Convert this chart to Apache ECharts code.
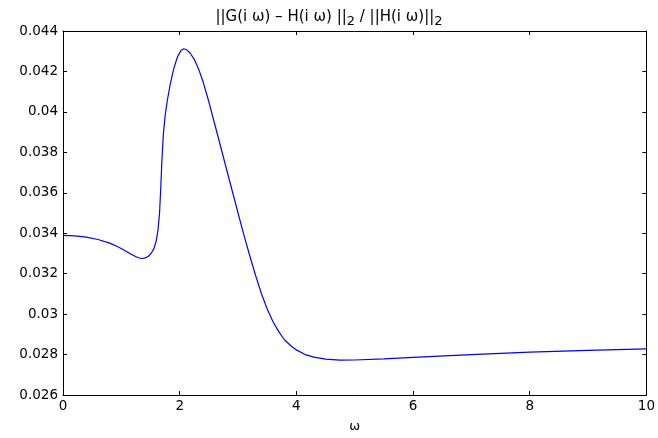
<!DOCTYPE html>
<html>
<head>
<meta charset="utf-8">
<script src="https://cdn.jsdelivr.net/npm/echarts@6/dist/echarts.min.js"></script>
<style>
html,body{margin:0;padding:0;background:#fff;}
#c{width:658px;height:438px;}
</style>
</head>
<body>
<div id="c"></div>
<script>
// omega values (x) and relative error values (y)
var omega = [0, 0.2, 0.4, 0.6, 0.8, 0.95, 1.08, 1.2, 1.28, 1.34, 1.40, 1.46, 1.51, 1.56, 1.6, 1.63, 1.655, 1.675, 1.695, 1.72, 1.75, 1.79, 1.84, 1.9, 1.96, 2.02, 2.07, 2.12, 2.18, 2.25, 2.32, 2.4, 2.5, 2.6, 2.7, 2.8, 2.9, 3.0, 3.1, 3.2, 3.3, 3.4, 3.5, 3.6, 3.7, 3.8, 3.9, 4.0, 4.15, 4.3, 4.5, 4.75, 5.0, 5.5, 6.0, 7.0, 8.0, 9.0, 10];
var relErr = [0.03389, 0.03387, 0.03381, 0.03369, 0.03351, 0.03332, 0.03311, 0.03291, 0.03280, 0.03275, 0.03277, 0.03285, 0.03300, 0.03325, 0.03365, 0.03420, 0.03500, 0.03620, 0.03760, 0.03890, 0.03980, 0.04060, 0.04140, 0.04215, 0.04270, 0.04303, 0.04312, 0.04307, 0.04290, 0.04260, 0.04215, 0.04150, 0.04050, 0.03940, 0.03830, 0.03720, 0.03610, 0.03500, 0.03392, 0.03290, 0.03192, 0.03102, 0.03025, 0.02962, 0.02912, 0.02872, 0.02845, 0.02823, 0.02800, 0.02787, 0.02777, 0.02772, 0.02773, 0.02779, 0.02786, 0.02800, 0.02812, 0.02821, 0.02828];
var xTicks = {min: 0, max: 10, interval: 2};
var yTicks = {min: 0.026, max: 0.044, interval: 0.002};
var titleText = '||G(i ω) – H(i ω) ||{s|2} / ||H(i ω)||{s|2}';
var xName = 'ω';

var chart = echarts.init(document.getElementById('c'), null, {renderer: 'canvas'});
var font = 'DejaVu Sans';
var pts = omega.map(function (x, i) { return [x, relErr[i]]; });
function fmtY(v) { return String(+v.toFixed(3)); }
var axisCommon = {
  axisLine: {show: true, onZero: false, lineStyle: {color: '#000', width: 1}},
  axisTick: {show: true, inside: true, length: 4, lineStyle: {color: '#000', width: 1}},
  splitLine: {show: false}
};
chart.setOption({
  animation: false,
  backgroundColor: '#fff',
  title: {
    text: titleText,
    left: 'center',
    top: 1,
    textStyle: {
      fontFamily: font, fontSize: 15, fontWeight: 'normal', color: '#000',
      rich: {s: {fontFamily: font, fontSize: 13, color: '#000', padding: [9, 0, 0, 0]}}
    }
  },
  grid: {left: 63, right: 8, top: 31, bottom: 38, containLabel: false},
  xAxis: [
    Object.assign({
      type: 'value', min: xTicks.min, max: xTicks.max, interval: xTicks.interval, position: 'bottom',
      name: xName, nameLocation: 'middle', nameGap: 25,
      nameTextStyle: {fontFamily: font, fontSize: 13, color: '#000'},
      axisLabel: {fontFamily: font, fontSize: 13.5, color: '#000', margin: 4}
    }, axisCommon),
    Object.assign({
      type: 'value', min: xTicks.min, max: xTicks.max, interval: xTicks.interval, position: 'top',
      axisLabel: {show: false}
    }, axisCommon)
  ],
  yAxis: [
    Object.assign({
      type: 'value', min: yTicks.min, max: yTicks.max, interval: yTicks.interval, position: 'left',
      axisLabel: {fontFamily: font, fontSize: 13.5, color: '#000', margin: 5, formatter: fmtY}
    }, axisCommon),
    Object.assign({
      type: 'value', min: yTicks.min, max: yTicks.max, interval: yTicks.interval, position: 'right',
      axisLabel: {show: false}
    }, axisCommon)
  ],
  series: [{
    type: 'line',
    data: pts,
    xAxisIndex: 0, yAxisIndex: 0,
    showSymbol: false,
    smooth: false,
    lineStyle: {color: '#0000ff', width: 1.2},
    itemStyle: {color: '#0000ff'}
  }]
});
</script>
</body>
</html>
